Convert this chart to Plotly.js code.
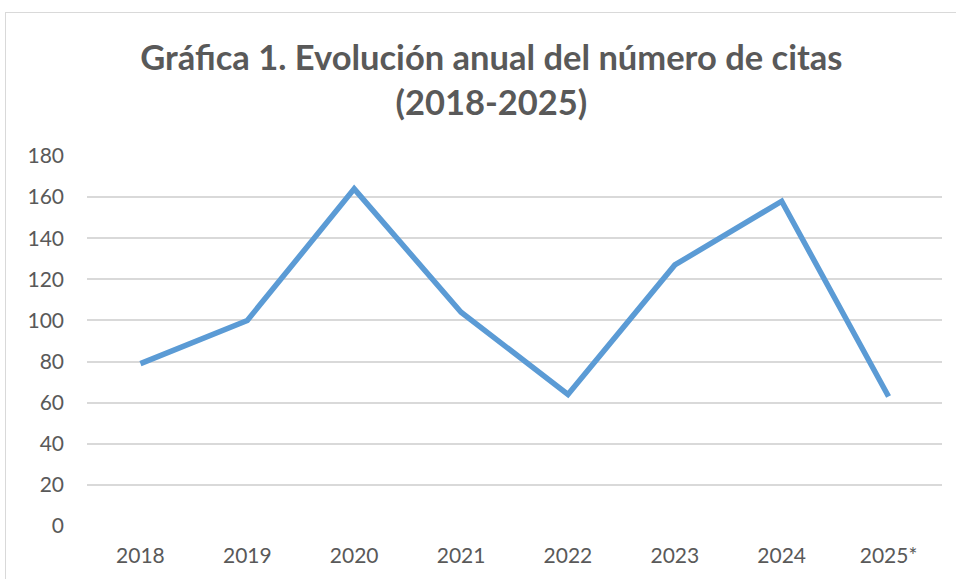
<!DOCTYPE html>
<html>
<head>
<meta charset="utf-8">
<script src="https://cdn.plot.ly/plotly-3.0.1.min.js"></script>
<style>
  html, body { margin: 0; padding: 0; background: #fff; overflow: hidden; }
  #wrap { position: relative; width: 956px; height: 579px; }
  #chart { width: 956px; height: 579px; }
  #frame { position: absolute; left: 5px; top: 12px; width: 1000px; height: 1000px;
           border: 1.5px solid #d9d9d9; pointer-events: none; box-sizing: border-box; }
</style>
</head>
<body>
<div id="wrap">
  <div id="chart"></div>
  <div id="frame"></div>
</div>
<script>
const years = ['2018', '2019', '2020', '2021', '2022', '2023', '2024', '2025*'];
const citas = [79, 100, 164, 104, 64, 127, 158, 63];
const yTicks = [0, 20, 40, 60, 80, 100, 120, 140, 160, 180];
const titleText = 'Gráfica 1. Evolución anual del número de citas<br>(2018-2025)';

const FONT = 'Lato, "Open Sans", sans-serif';

const trace = {
  type: 'scatter',
  mode: 'lines',
  x: years,
  y: citas,
  line: { color: '#5b9bd5', width: 5.5 },
  hoverinfo: 'x+y'
};

const layout = {
  width: 956,
  height: 579,
  paper_bgcolor: '#ffffff',
  plot_bgcolor: '#ffffff',
  margin: { l: 87, r: 14, t: 156, b: 53 },
  showlegend: false,
  title: {
    text: titleText,
    font: { family: FONT, size: 34.5, color: '#595959', weight: 700 },
    x: 0.514,
    xanchor: 'center',
    xref: 'container',
    yref: 'container',
    y: 1 - 70 / 579,
    yanchor: 'middle'
  },
  xaxis: {
    type: 'category',
    range: [-0.5, 7.5],
    showgrid: false,
    zeroline: false,
    showline: false,
    ticks: '',
    ticklabelstandoff: 15,
    tickfont: { family: FONT, size: 21, color: '#595959' },
    fixedrange: true
  },
  yaxis: {
    range: [0, 180],
    tickvals: yTicks,
    ticktext: yTicks.map(String),
    showgrid: true,
    gridcolor: '#d9d9d9',
    gridwidth: 1.5,
    zeroline: false,
    showline: false,
    ticks: '',
    ticklabelstandoff: 22,
    tickfont: { family: FONT, size: 21, color: '#595959' },
    fixedrange: true
  }
};

Plotly.newPlot('chart', [trace], layout, { displayModeBar: false, staticPlot: false });
</script>
</body>
</html>
